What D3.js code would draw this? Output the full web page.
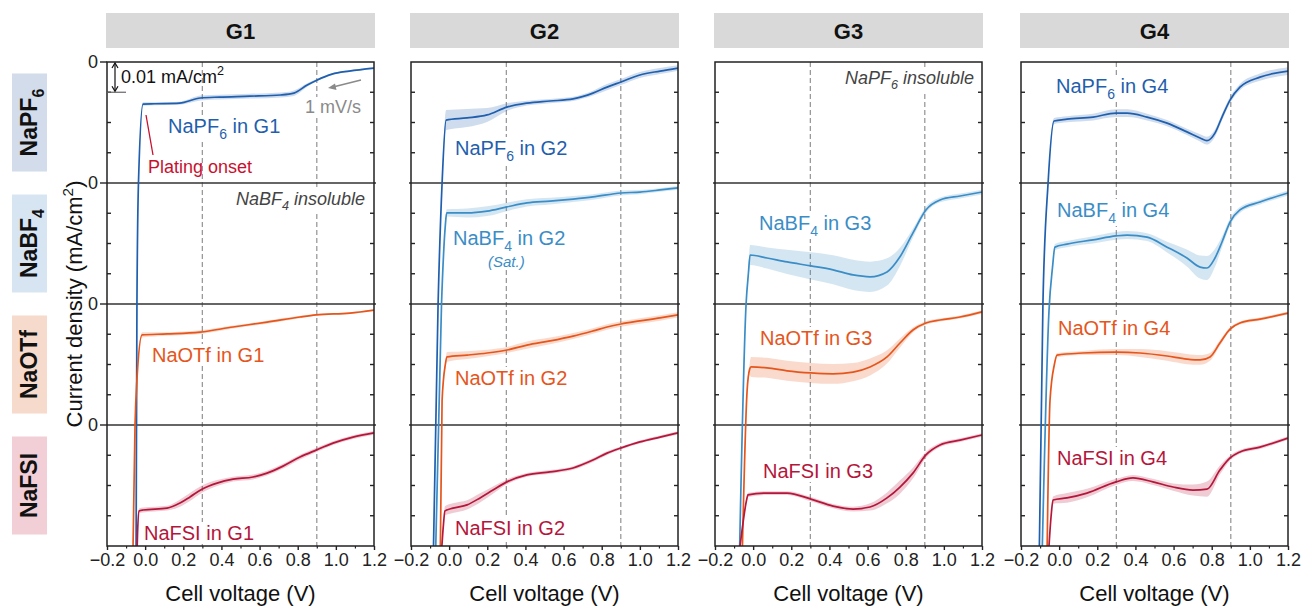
<!DOCTYPE html>
<html><head><meta charset="utf-8">
<script src="https://cdn.jsdelivr.net/npm/d3@7"></script>
<style>
body{margin:0;background:#fff}
text{font-family:"Liberation Sans",Arial,Helvetica,sans-serif}
</style></head>
<body><svg id="chart" width="1301" height="606"></svg>
<script>
// ---------------- DATA (current density in mA/cm², each row spans 0 to -0.04) ----------------
const groups = ["G1", "G2", "G3", "G4"];
const salts = ["NaPF_{6}", "NaBF_{4}", "NaOTf", "NaFSI"];
const xTicks = [-0.2, 0.0, 0.2, 0.4, 0.6, 0.8, 1.0, 1.2];
const xMinorTicks = [-0.1, 0.1, 0.3, 0.5, 0.7, 0.9, 1.1];
const refVoltages = [0.3, 0.9];
const yTicksRow = [0, -0.01, -0.02, -0.03];
const rowSpan = 0.04;

// G1
const V_G1_NaPF6 = [-0.048,-0.043,-0.035,-0.011,0.05,0.18,0.29,0.39,0.55,0.71,0.78,0.85,0.90,0.98,1.07,1.2];
const I_G1_NaPF6 = [-0.17,-0.08,-0.04,-0.0139,-0.0138,-0.0136,-0.0119,-0.0116,-0.0113,-0.0109,-0.0103,-0.0076,-0.0060,-0.0040,-0.0030,-0.0020];
const SD_G1_NaPF6 = [0,0,0,0.0006,0.0005,0.0005,0.0008,0.0008,0.0008,0.0008,0.0009,0.0006,0.0004,0.0003,0.0003,0.0003];

const V_G1_NaOTf = [-0.066,-0.053,-0.043,-0.016,0.115,0.288,0.461,0.639,0.812,0.896,1.074,1.2];
const I_G1_NaOTf = [-0.09,-0.04,-0.025,-0.0102,-0.0099,-0.0093,-0.0076,-0.0060,-0.0043,-0.0036,-0.0030,-0.0020];
const SD_G1_NaOTf = [0,0,0,0.0009,0.0006,0.0006,0.0005,0.0005,0.0004,0.0003,0.0003,0.0003];

const V_G1_NaFSI = [-0.046,-0.04,-0.032,-0.011,0.115,0.183,0.235,0.298,0.377,0.461,0.566,0.639,0.723,0.812,0.896,0.985,1.09,1.2];
const I_G1_NaFSI = [-0.05,-0.036,-0.0284,-0.0281,-0.0275,-0.0258,-0.0238,-0.0212,-0.0192,-0.0179,-0.0172,-0.0159,-0.0136,-0.0106,-0.0083,-0.0060,-0.0040,-0.0026];
const SD_G1_NaFSI = [0,0,0.0008,0.0008,0.0008,0.0012,0.0013,0.0012,0.0010,0.0008,0.0008,0.0008,0.0008,0.0008,0.0007,0.0006,0.0006,0.0006];

// G2
const V_G2_NaPF6 = [-0.085,-0.058,-0.037,-0.016,0.094,0.199,0.303,0.408,0.529,0.65,0.754,0.828,0.901,1.0,1.106,1.2];
const I_G2_NaPF6 = [-0.17,-0.08,-0.04,-0.0192,-0.0185,-0.0175,-0.0149,-0.0136,-0.0129,-0.0122,-0.0103,-0.0083,-0.0066,-0.0043,-0.0030,-0.0020];
const SD_G2_NaPF6 = [0,0,0,0.0033,0.0030,0.0023,0.0013,0.0008,0.0007,0.0007,0.0008,0.0010,0.0010,0.0010,0.0010,0.0009];

const V_G2_NaBF4 = [-0.074,-0.04,-0.02,-0.013,0.094,0.199,0.303,0.408,0.529,0.65,0.754,0.901,1.0,1.106,1.2];
const I_G2_NaBF4 = [-0.13,-0.04,-0.014,-0.0099,-0.0099,-0.0093,-0.0079,-0.0066,-0.0060,-0.0053,-0.0046,-0.0033,-0.0030,-0.0023,-0.0016];
const SD_G2_NaBF4 = [0,0,0.0010,0.0012,0.0015,0.0016,0.0014,0.0012,0.0011,0.0010,0.0009,0.0008,0.0007,0.0006,0.0006];

const V_G2_NaOTf = [-0.048,-0.037,-0.02,-0.011,0.094,0.199,0.303,0.408,0.529,0.65,0.754,0.828,0.901,1.0,1.106,1.2];
const I_G2_NaOTf = [-0.09,-0.032,-0.020,-0.0175,-0.0169,-0.0162,-0.0152,-0.0136,-0.0122,-0.0106,-0.0089,-0.0076,-0.0066,-0.0056,-0.0046,-0.0036];
const SD_G2_NaOTf = [0,0,0.0012,0.0016,0.0013,0.0011,0.0010,0.0012,0.0011,0.0010,0.0009,0.0009,0.0009,0.0009,0.0009,0.0009];

const V_G2_NaFSI = [-0.043,-0.03,-0.022,0.020,0.094,0.162,0.23,0.303,0.408,0.529,0.65,0.754,0.828,0.901,1.0,1.106,1.2];
const I_G2_NaFSI = [-0.045,-0.033,-0.0284,-0.0275,-0.0264,-0.0241,-0.0215,-0.0188,-0.0165,-0.0155,-0.0142,-0.0116,-0.0093,-0.0076,-0.0056,-0.0040,-0.0026];
const SD_G2_NaFSI = [0,0,0.0015,0.0016,0.0015,0.0015,0.0012,0.0008,0.0006,0.0006,0.0006,0.0006,0.0006,0.0005,0.0005,0.0005,0.0005];

// G3
const V_G3_NaBF4 = [-0.074,-0.037,-0.025,-0.016,0.073,0.178,0.303,0.419,0.524,0.613,0.702,0.77,0.838,0.906,0.98,1.085,1.2];
const I_G3_NaBF4 = [-0.13,-0.04,-0.030,-0.0238,-0.0248,-0.0261,-0.0274,-0.0287,-0.0304,-0.0310,-0.0294,-0.0244,-0.0165,-0.0089,-0.0056,-0.0043,-0.0030];
const SD_G3_NaBF4 = [0,0,0.0020,0.0033,0.0035,0.0040,0.0045,0.0048,0.0050,0.0050,0.0045,0.0030,0.0015,0.0010,0.0008,0.0008,0.0008];

const V_G3_NaOTf = [-0.058,-0.032,-0.018,-0.011,0.073,0.178,0.303,0.419,0.524,0.613,0.702,0.77,0.838,0.906,0.98,1.085,1.2];
const I_G3_NaOTf = [-0.085,-0.029,-0.0215,-0.0208,-0.0211,-0.0221,-0.0228,-0.0231,-0.0225,-0.0208,-0.0175,-0.0129,-0.0086,-0.0063,-0.0053,-0.0043,-0.0026];
const SD_G3_NaOTf = [0,0,0.0020,0.0033,0.0033,0.0033,0.0033,0.0033,0.0030,0.0028,0.0022,0.0015,0.0008,0.0006,0.0005,0.0005,0.0005];

const V_G3_NaFSI = [-0.079,-0.058,-0.035,-0.027,0.073,0.178,0.303,0.419,0.524,0.613,0.702,0.77,0.838,0.906,0.98,1.085,1.2];
const I_G3_NaFSI = [-0.045,-0.0347,-0.025,-0.0231,-0.0225,-0.0225,-0.0245,-0.0268,-0.0278,-0.0271,-0.0241,-0.0205,-0.0159,-0.0099,-0.0066,-0.0050,-0.0033];
const SD_G3_NaFSI = [0,0,0.0005,0.0007,0.0006,0.0006,0.0007,0.0007,0.0008,0.0012,0.0018,0.0022,0.0018,0.0010,0.0007,0.0006,0.0006];

// G4
const V_G4_NaPF6 = [-0.106,-0.085,-0.058,-0.027,0.041,0.178,0.298,0.356,0.461,0.566,0.67,0.739,0.775,0.817,0.854,0.896,0.948,1.053,1.2];
const I_G4_NaPF6 = [-0.17,-0.08,-0.04,-0.0195,-0.0189,-0.0182,-0.0169,-0.0169,-0.0182,-0.0202,-0.0231,-0.0251,-0.0260,-0.0235,-0.0182,-0.0126,-0.0083,-0.0050,-0.0030];
const SD_G4_NaPF6 = [0,0,0,0.0010,0.0010,0.0011,0.0013,0.0013,0.0011,0.0010,0.0010,0.0012,0.0013,0.0012,0.0011,0.0010,0.0010,0.0012,0.0013];

const V_G4_NaBF4 = [-0.09,-0.053,-0.035,-0.022,0.041,0.178,0.298,0.356,0.461,0.566,0.67,0.739,0.775,0.817,0.854,0.896,0.948,1.053,1.2];
const I_G4_NaBF4 = [-0.125,-0.042,-0.028,-0.0212,-0.0202,-0.0188,-0.0175,-0.0172,-0.0179,-0.0212,-0.0248,-0.0278,-0.0281,-0.0248,-0.0195,-0.0129,-0.0089,-0.0063,-0.0033];
const SD_G4_NaBF4 = [0,0,0.0005,0.0010,0.0010,0.0012,0.0013,0.0013,0.0013,0.0018,0.0028,0.0038,0.0040,0.0030,0.0018,0.0012,0.0010,0.0008,0.0008];

const V_G4_NaOTf = [-0.064,-0.048,-0.025,-0.011,0.125,0.298,0.424,0.566,0.67,0.739,0.791,0.843,0.896,0.948,1.053,1.2];
const I_G4_NaOTf = [-0.085,-0.032,-0.020,-0.0169,-0.0162,-0.0159,-0.0162,-0.0172,-0.0182,-0.0185,-0.0175,-0.0129,-0.0083,-0.0063,-0.0050,-0.0030];
const SD_G4_NaOTf = [0,0,0.0005,0.0007,0.0007,0.0010,0.0013,0.0016,0.0017,0.0016,0.0013,0.0009,0.0006,0.0005,0.0005,0.0005];

const V_G4_NaFSI = [-0.058,-0.042,-0.032,0.041,0.146,0.298,0.387,0.492,0.597,0.702,0.775,0.843,0.896,0.948,1.053,1.2];
const I_G4_NaFSI = [-0.045,-0.030,-0.0248,-0.0241,-0.0225,-0.0188,-0.0175,-0.0188,-0.0205,-0.0215,-0.0212,-0.0149,-0.0109,-0.0089,-0.0073,-0.0043];
const SD_G4_NaFSI = [0,0,0.0012,0.0016,0.0014,0.0010,0.0010,0.0010,0.0012,0.0018,0.0025,0.0015,0.0008,0.0006,0.0006,0.0006];

// series table built from the arrays above: [group index, row (salt) index, V, I, SD]
const seriesTable = [
  [0,0,V_G1_NaPF6,I_G1_NaPF6,SD_G1_NaPF6],
  [0,2,V_G1_NaOTf,I_G1_NaOTf,SD_G1_NaOTf],
  [0,3,V_G1_NaFSI,I_G1_NaFSI,SD_G1_NaFSI],
  [1,0,V_G2_NaPF6,I_G2_NaPF6,SD_G2_NaPF6],
  [1,1,V_G2_NaBF4,I_G2_NaBF4,SD_G2_NaBF4],
  [1,2,V_G2_NaOTf,I_G2_NaOTf,SD_G2_NaOTf],
  [1,3,V_G2_NaFSI,I_G2_NaFSI,SD_G2_NaFSI],
  [2,1,V_G3_NaBF4,I_G3_NaBF4,SD_G3_NaBF4],
  [2,2,V_G3_NaOTf,I_G3_NaOTf,SD_G3_NaOTf],
  [2,3,V_G3_NaFSI,I_G3_NaFSI,SD_G3_NaFSI],
  [3,0,V_G4_NaPF6,I_G4_NaPF6,SD_G4_NaPF6],
  [3,1,V_G4_NaBF4,I_G4_NaBF4,SD_G4_NaBF4],
  [3,2,V_G4_NaOTf,I_G4_NaOTf,SD_G4_NaOTf],
  [3,3,V_G4_NaFSI,I_G4_NaFSI,SD_G4_NaFSI]
];

// ---------------- STYLE / LAYOUT ----------------
const lineColors = ["#1f5fae", "#3a8dc6", "#e5561c", "#b5163b"];
const rowBoxColors = ["#d2dcea", "#d7e5f2", "#f6dacb", "#f2cfd6"];
const panelLeft = [107, 411, 715, 1021];
const panelTop = 62, panelW = 267, panelH = 484;
const FONT = 'Liberation Sans, Arial, sans-serif';

// curve labels: [group, row, text, x(abs), baseline y(abs)]
const curveLabels = [
  [0,0,"NaPF_{6} in G1",168,133],
  [0,2,"NaOTf in G1",152,362],
  [0,3,"NaFSI in G1",144,540],
  [1,0,"NaPF_{6} in G2",455,155],
  [1,1,"NaBF_{4} in G2",453,245],
  [1,2,"NaOTf in G2",455,385],
  [1,3,"NaFSI in G2",455,535],
  [2,1,"NaBF_{4} in G3",759,230],
  [2,2,"NaOTf in G3",760,345],
  [2,3,"NaFSI in G3",763,478],
  [3,0,"NaPF_{6} in G4",1056,93],
  [3,1,"NaBF_{4} in G4",1057,217],
  [3,2,"NaOTf in G4",1058,335],
  [3,3,"NaFSI in G4",1057,465]
];

const svg = d3.select("#chart");
const x = d3.scaleLinear().domain([-0.2, 1.2]).range([0, panelW]);
const y = d3.scaleLinear().domain([-rowSpan*4, 0]).range([panelH, 0]);

function rich(sel, str, size) {
  const parts = str.split(/(_\{[^}]*\}|\^\{[^}]*\})/).filter(s => s.length);
  let shift = 0;
  parts.forEach(p => {
    let t = p, target = 0, fs = size;
    if (p.startsWith("_{")) { t = p.slice(2,-1); target = size*0.3; fs = size*0.7; }
    else if (p.startsWith("^{")) { t = p.slice(2,-1); target = -size*0.42; fs = size*0.7; }
    sel.append("tspan").attr("dy", target - shift).attr("font-size", fs).text(t);
    shift = target;
  });
  return sel;
}

// row label boxes
salts.forEach((s, r) => {
  const cy = panelTop + y(-rowSpan*r) + (y(-rowSpan*(r+1)) - y(-rowSpan*r))/2;
  svg.append("rect").attr("x", 12).attr("y", cy - 49).attr("width", 35).attr("height", 98).attr("fill", rowBoxColors[r]);
  const t = svg.append("text").attr("transform", `translate(37,${cy}) rotate(-90)`)
    .attr("text-anchor", "middle").attr("font-weight", "bold").attr("font-size", 23).attr("fill", "#111");
  rich(t, s, 23);
});

// y axis title
const yt = svg.append("text").attr("transform", `translate(82,${panelTop + panelH/2}) rotate(-90)`)
  .attr("text-anchor", "middle").attr("font-size", 22).attr("fill", "#111");
rich(yt, "Current density (mA/cm^{2})", 22);

const area = d3.area().x(d => x(d.v)).y0(d => y(d.i - d.sd)).y1(d => y(d.i + d.sd)).curve(d3.curveMonotoneX);
const line = d3.line().x(d => x(d.v)).y(d => y(d.i)).curve(d3.curveMonotoneX);

groups.forEach((gname, gi) => {
  const L = panelLeft[gi];
  // header
  svg.append("rect").attr("x", L - 1).attr("y", 13).attr("width", panelW + 2).attr("height", 35).attr("fill", "#d9d9d9");
  svg.append("text").attr("x", L + panelW/2).attr("y", 39).attr("text-anchor", "middle")
    .attr("font-weight", "bold").attr("font-size", 22).attr("fill", "#111").text(gname);

  const g = svg.append("g").attr("transform", `translate(${L},${panelTop})`);
  svg.append("clipPath").attr("id", "clip" + gi).append("rect").attr("width", panelW).attr("height", panelH);

  const gridL = g.append("g");
  const bgL = g.append("g");
  const dataL = g.append("g").attr("clip-path", `url(#clip${gi})`);
  const frameL = g.append("g");
  const textL = g.append("g");

  // dashed reference lines
  refVoltages.forEach(v => {
    gridL.append("line").attr("x1", x(v)).attr("x2", x(v)).attr("y1", 0).attr("y2", panelH)
      .attr("stroke", "#9a9a9a").attr("stroke-width", 1.3).attr("stroke-dasharray", "5,3");
  });
  // row zero lines
  for (let r = 1; r < 4; r++) {
    gridL.append("line").attr("x1", gi === 0 ? -7 : -2).attr("x2", panelW + 2)
      .attr("y1", y(-rowSpan*r)).attr("y2", y(-rowSpan*r)).attr("stroke", "#333").attr("stroke-width", 1.4);
  }
  if (gi === 0) {
    frameL.append("line").attr("x1", -7).attr("x2", 0).attr("y1", 0).attr("y2", 0).attr("stroke", "#222").attr("stroke-width", 1.4);
  }

  // curves
  seriesTable.filter(s => s[0] === gi).forEach(s => {
    const [, r, V, I, SD] = s;
    const off = -rowSpan * r;
    const pts = V.map((v, k) => ({v: v, i: I[k] + off, sd: SD[k]}));
    dataL.append("path").datum(pts).attr("d", area).attr("fill", lineColors[r]).attr("fill-opacity", 0.22);
    dataL.append("path").datum(pts).attr("d", line).attr("fill", "none").attr("stroke", lineColors[r]).attr("stroke-width", 1.7);
  });

  // frame
  frameL.append("rect").attr("width", panelW).attr("height", panelH).attr("fill", "none").attr("stroke", "#222").attr("stroke-width", 1.5);
  // y ticks (inward both sides)
  for (let r = 0; r < 4; r++) {
    yTicksRow.slice(1).forEach(t => {
      const yy = y(t - rowSpan*r);
      frameL.append("line").attr("x1", 0).attr("x2", 4).attr("y1", yy).attr("y2", yy).attr("stroke", "#222").attr("stroke-width", 1.4);
      frameL.append("line").attr("x1", panelW - 4).attr("x2", panelW).attr("y1", yy).attr("y2", yy).attr("stroke", "#222").attr("stroke-width", 1.4);
    });
    if (gi === 0) {
      frameL.append("text").attr("x", -9).attr("y", y(-rowSpan*r)).attr("dy", "0.36em").attr("text-anchor", "end")
        .attr("font-size", 18).attr("fill", "#222").text("0");
    }
  }
  // x axis
  const xAxis = d3.axisBottom(x).tickValues(xTicks).tickSize(4).tickPadding(3)
    .tickFormat(d => d3.format(".1f")(d).replace("-", "\u2212"));
  const ax = frameL.append("g").attr("transform", `translate(0,${panelH})`).call(xAxis);
  ax.attr("font-size", 18).attr("font-family", FONT);
  ax.select(".domain").remove();
  ax.selectAll(".tick line").attr("stroke", "#222").attr("stroke-width", 1.4);
  ax.selectAll(".tick text").attr("font-size", 18).attr("font-family", FONT).attr("fill", "#222");
  const axm = frameL.append("g").attr("transform", `translate(0,${panelH})`)
    .call(d3.axisBottom(x).tickValues(xMinorTicks).tickSize(2.5).tickFormat(""));
  axm.select(".domain").remove();
  axm.selectAll(".tick line").attr("stroke", "#222").attr("stroke-width", 1.2);

  svg.append("text").attr("x", L + panelW/2).attr("y", 601).attr("text-anchor", "middle")
    .attr("font-size", 22).attr("fill", "#111").text("Cell voltage (V)");

  // labels with white background
  function label(str, ax_, ay, opts) {
    const t = textL.append("text").attr("x", ax_ - L).attr("y", ay - panelTop)
      .attr("font-size", opts.size).attr("fill", opts.color)
      .attr("text-anchor", opts.anchor || "start").attr("font-style", opts.italic ? "italic" : "normal");
    rich(t, str, opts.size);
    if (opts.bg !== false) {
      const b = t.node().getBBox();
      bgL.append("rect").attr("x", b.x - 2).attr("y", b.y).attr("width", b.width + 4).attr("height", b.height).attr("fill", "#fff");
    }
    return t;
  }
  curveLabels.filter(c => c[0] === gi).forEach(c => label(c[2], c[3], c[4], {size: 20, color: lineColors[c[1]]}));

  if (gi === 0) {
    label("NaBF_{4} insoluble", 365, 205, {size: 18, color: "#444", italic: true, anchor: "end"});
    label("1 mV/s", 361, 113, {size: 18, color: "#8a8a8a", anchor: "end"});
    label("Plating onset", 148, 173, {size: 18, color: "#c8102e", bg: false});
    // plating onset pointer
    textL.append("line").attr("x1", 146 - L).attr("y1", 115 - panelTop).attr("x2", 153 - L).attr("y2", 155 - panelTop)
      .attr("stroke", "#c8102e").attr("stroke-width", 1.3);
    // scale bar: 0.01 mA/cm2
    const sx = 8;
    textL.append("line").attr("x1", 0).attr("x2", 19).attr("y1", y(-0.01)).attr("y2", y(-0.01)).attr("stroke", "#666").attr("stroke-width", 1.2);
    textL.append("line").attr("x1", sx).attr("x2", sx).attr("y1", y(0) + 2).attr("y2", y(-0.01) - 2).attr("stroke", "#111").attr("stroke-width", 1.2);
    textL.append("path").attr("d", `M${sx-3},${y(0)+6}L${sx},${y(0)+1}L${sx+3},${y(0)+6}`).attr("fill", "none").attr("stroke", "#111").attr("stroke-width", 1.2);
    textL.append("path").attr("d", `M${sx-3},${y(-0.01)-6}L${sx},${y(-0.01)-1}L${sx+3},${y(-0.01)-6}`).attr("fill", "none").attr("stroke", "#111").attr("stroke-width", 1.2);
    label("0.01 mA/cm^{2}", 121, 83, {size: 18, color: "#111", bg: false});
    // scan-rate arrow
    textL.append("line").attr("x1", 361 - L).attr("y1", 80 - panelTop).attr("x2", 333 - L).attr("y2", 87 - panelTop)
      .attr("stroke", "#8a8a8a").attr("stroke-width", 1.3);
    textL.append("path").attr("d", `M${328-L},${88-panelTop}L${335-L},${83.5-panelTop}L${336.5-L},${90-panelTop}Z`).attr("fill", "#8a8a8a");
  }
  if (gi === 1) {
    label("(Sat.)", 488, 267, {size: 15, color: lineColors[1], italic: true});
  }
  if (gi === 2) {
    label("NaPF_{6} insoluble", 974, 84, {size: 18, color: "#444", italic: true, anchor: "end"});
  }
});
</script></body></html>
